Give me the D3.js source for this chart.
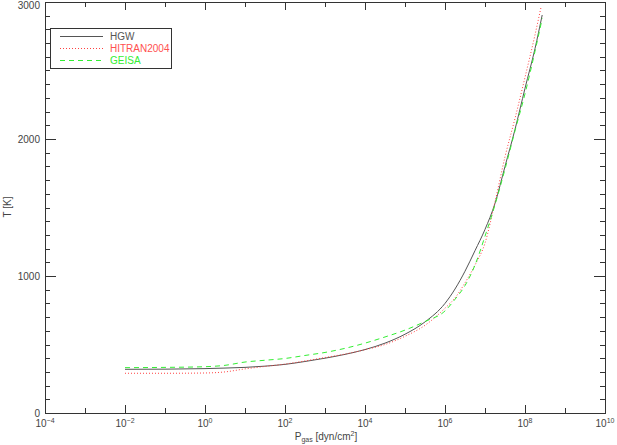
<!DOCTYPE html>
<html><head><meta charset="utf-8">
<script src="https://cdn.jsdelivr.net/npm/d3@7"></script>
<style>body{margin:0;background:#fff}svg{display:block}text{font-family:"Liberation Sans",Arial,sans-serif}</style>
</head><body>
<script>
// log10 of gas pressure (dyn/cm^2)
const logP = [-2,-1,0,0.5,1,1.5,2,2.5,3,3.5,4,4.5,5,5.5,6,6.25,6.5,6.75,7,7.25,7.5,7.75,8,8.25,8.43];
const logP_hitran = [-2,-1,0,0.5,1,1.5,2,2.5,3,3.5,4,4.5,5,5.5,6,6.25,6.5,6.75,7,7.25,7.5,7.75,8,8.25,8.40];
const T_hgw    = [319,320,324,328,333,342,355,376,400,428,463,510,575,665,800,905,1035,1185,1340,1530,1800,2070,2370,2660,2905];
const T_hitran = [290,290,292,300,322,340,357,380,405,430,462,500,560,640,765,840,950,1080,1240,1540,1870,2150,2450,2760,2961];
const T_geisa  = [331,333,338,348,372,385,398,420,442,472,510,555,605,668,745,830,930,1080,1290,1520,1780,2060,2330,2640,2880];
const seriesNames = ["HGW","HITRAN2004","GEISA"];
const xTickExps = [-4,-2,0,2,4,6,8,10];
const yTickValues = [0,1000,2000,3000];

const W=617,H=445;
const svg=d3.select("body").append("svg").attr("width",W).attr("height",H);
const x=d3.scaleLog().domain([1e-4,1e10]).range([45,605]);
const y=d3.scaleLinear().domain([0,3000]).range([413,2]);
const axisCol="#333", txtCol="#444";

// frame
svg.append("rect").attr("x",45).attr("y",2).attr("width",560).attr("height",411)
  .attr("fill","none").attr("stroke",axisCol).attr("stroke-width",1).attr("shape-rendering","crispEdges");

const allExp=d3.range(-4,11);
const g=svg.append("g").attr("stroke",axisCol).attr("shape-rendering","crispEdges");
allExp.forEach(e=>{
  const xx=Math.round(x(Math.pow(10,e)))+0.5, len=(e%2===0)?8:5;
  g.append("line").attr("x1",xx).attr("x2",xx).attr("y1",413).attr("y2",413-len);
  g.append("line").attr("x1",xx).attr("x2",xx).attr("y1",2).attr("y2",2+len);
});
d3.range(0,3001,100).forEach(v=>{
  const yy=Math.round(y(v))+0.5, len=(v%1000===0)?11:5;
  g.append("line").attr("x1",45).attr("x2",45+len).attr("y1",yy).attr("y2",yy);
  g.append("line").attr("x1",605).attr("x2",605-len).attr("y1",yy).attr("y2",yy);
});

// x tick labels
xTickExps.forEach(e=>{
  const t=svg.append("text").attr("x",x(Math.pow(10,e))).attr("y",427).attr("text-anchor","middle")
    .attr("fill",txtCol).attr("font-size",10);
  t.append("tspan").text("10");
  t.append("tspan").attr("dy",-4).attr("font-size",7).text(String(e).replace("-","\u2212"));
});
// y tick labels
yTickValues.forEach(v=>{
  svg.append("text").attr("x",40).attr("y",Math.max(y(v)+3.5,9)).attr("text-anchor","end")
    .attr("fill",txtCol).attr("font-size",10).text(v);
});
// axis titles
const xt=svg.append("text").attr("x",326).attr("y",440).attr("text-anchor","middle").attr("fill",txtCol).attr("font-size",10);
xt.append("tspan").text("P");
xt.append("tspan").attr("dy",2).attr("font-size",7).text("gas");
xt.append("tspan").attr("dy",-2).text("  [dyn/cm");
xt.append("tspan").attr("dy",-4).attr("font-size",7).text("2");
xt.append("tspan").attr("dy",4).text("]");
svg.append("text").attr("transform","translate(11,207) rotate(-90)").attr("text-anchor","middle")
  .attr("fill",txtCol).attr("font-size",10).text("T [K]");

// curves
const line=d3.line().x(d=>x(Math.pow(10,d[0]))).y(d=>y(d[1])).curve(d3.curveMonotoneX);
const styles=[
  {data:d3.zip(logP,T_hgw),col:"#555",dash:null,txt:"#555"},
  {data:d3.zip(logP_hitran,T_hitran),col:"#ff4040",dash:"1,2",txt:"#ff5050"},
  {data:d3.zip(logP,T_geisa),col:"#33ee33",dash:"5,4",txt:"#33ee33"}
];
styles.forEach(s=>{
  svg.append("path").attr("d",line(s.data)).attr("fill","none").attr("stroke",s.col)
    .attr("stroke-width",1).attr("stroke-dasharray",s.dash);
});

// legend
svg.append("rect").attr("x",50.5).attr("y",28.5).attr("width",121).attr("height",40)
  .attr("fill","none").attr("stroke",axisCol).attr("shape-rendering","crispEdges");
seriesNames.forEach((n,i)=>{
  const yy=36.5+i*12;
  svg.append("line").attr("x1",60).attr("x2",103).attr("y1",yy).attr("y2",yy)
    .attr("stroke",styles[i].col).attr("stroke-dasharray",styles[i].dash);
  svg.append("text").attr("x",110).attr("y",yy+3.5).attr("fill",styles[i].txt).attr("font-size",10).text(n);
});
</script>
</body></html>
